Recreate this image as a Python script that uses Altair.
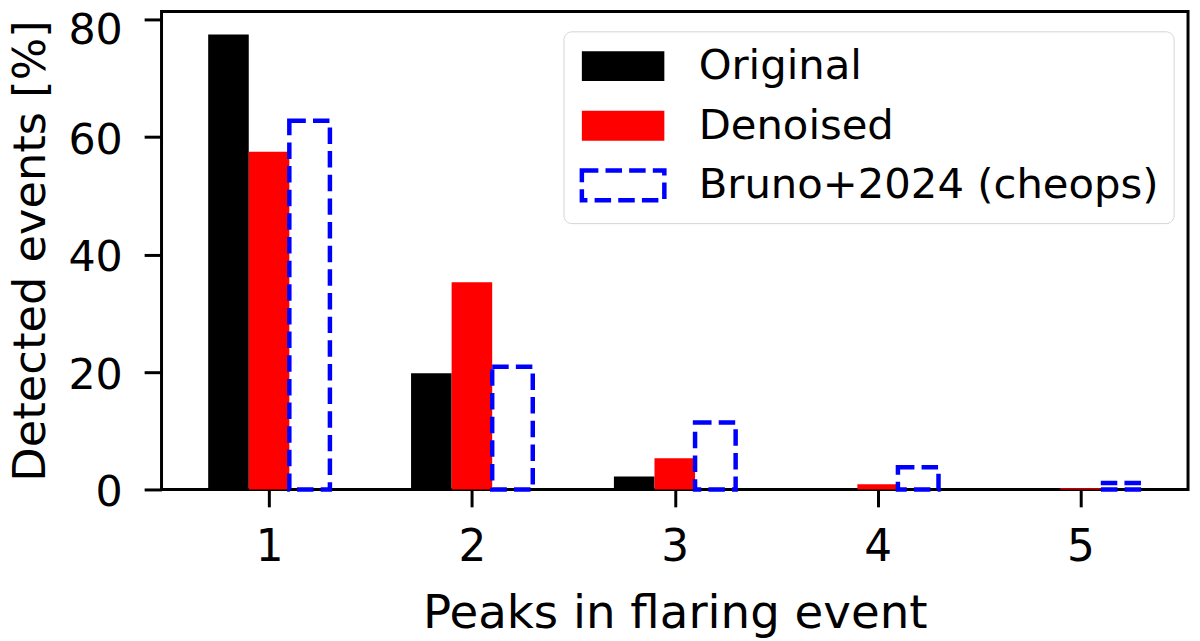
import altair as alt
import pandas as pd

# ---- data ----
peaks = [1, 2, 3, 4, 5]
series_names = ["Original", "Denoised", "Bruno+2024 (cheops)"]
original = [77.5, 19.8, 2.2, 0.0, 0.0]
denoised = [57.5, 35.3, 5.3, 0.9, 0.2]
bruno = [62.8, 20.9, 11.4, 3.8, 1.1]
y_ticks = [0, 20, 40, 60, 80]

# grouped-bar layout (offset of each series from the category centre)
offsets = {"Original": -0.2, "Denoised": 0.0, "Bruno+2024 (cheops)": 0.2}
bar_w = 0.2

rows = []
for name, vals in zip(series_names, [original, denoised, bruno]):
    for p, v in zip(peaks, vals):
        rows.append({"peaks": p, "series": name, "value": v})
df = pd.DataFrame(rows)
df["x0"] = df["peaks"] + df["series"].map(offsets) - bar_w / 2
df["x1"] = df["x0"] + bar_w

FONT = "DejaVu Sans"
DASH = [16.6, 7.2]
swatch = "M-2.767,-1H2.767V1H-2.767Z"

legend_props = dict(
    title=None,
    orient="none",
    legendX=404.5,
    legendY=20,
    symbolType=swatch,
    symbolSize=900,
    symbolStrokeWidth=4.5,
    symbolDash=DASH,
    symbolOffset=25,
    labelOffset=55,
    labelFont=FONT,
    labelFontSize=42,
    labelColor="black",
    rowPadding=12,
    padding=14,
    fillColor="white",
    strokeColor="#d4d4d4",
    cornerRadius=8,
    labelLimit=1000,
)

fill_scale = alt.Scale(domain=series_names, range=["black", "red", "transparent"])
stroke_scale = alt.Scale(domain=series_names, range=["transparent", "transparent", "blue"])

chart = (
    alt.Chart(df)
    .mark_rect(strokeWidth=4.5, strokeDash=DASH)
    .encode(
        x=alt.X(
            "x0:Q",
            scale=alt.Scale(domain=[0.47, 5.53], nice=False, zero=False),
            axis=alt.Axis(
                values=peaks,
                format="d",
                title="Peaks in flaring event",
                grid=False,
                domain=False,
                tickSize=17.5,
                tickWidth=3,
                tickColor="black",
                labelFont=FONT,
                labelFontSize=44,
                labelColor="black",
                labelPadding=18.5,
                labelFlush=False,
                titleFont=FONT,
                titleFontSize=47,
                titleFontWeight="normal",
                titleColor="black",
                titleY=138.5,
                titleBaseline="alphabetic",
            ),
        ),
        x2="x1:Q",
        y=alt.Y(
            "value:Q",
            scale=alt.Scale(domain=[0, 81.4], nice=False),
            axis=alt.Axis(
                values=y_ticks,
                title="Detected events [%]",
                grid=False,
                domain=False,
                tickSize=17.5,
                tickWidth=3,
                tickColor="black",
                labelFont=FONT,
                labelFontSize=43,
                labelColor="black",
                labelPadding=22,
                labelFlush=False,
                labelOffset=alt.condition("datum.value == 80", alt.value(10.5), alt.value(3.5)),
                titleFont=FONT,
                titleFontSize=45,
                titleFontWeight="normal",
                titleColor="black",
                titleAngle=270,
                titleX=-118,
                titleY=240.5,
                titleAlign="center",
                titleBaseline="alphabetic",
            ),
        ),
        y2=alt.datum(0),
        fill=alt.Fill("series:N", scale=fill_scale, legend=alt.Legend(**legend_props)),
        stroke=alt.Stroke("series:N", scale=stroke_scale, legend=alt.Legend(**legend_props)),
    )
    .properties(
        width=1033,
        height=481,
        padding={"left": 154.5, "top": 1.5, "right": 4, "bottom": 150},
        autosize=alt.AutoSizeParams(type="none"),
    )
    .configure(background="white", view=alt.ViewConfig(stroke="black", strokeWidth=3))
)

chart.save("out.html", embed_options={"renderer": "svg", "actions": False})
